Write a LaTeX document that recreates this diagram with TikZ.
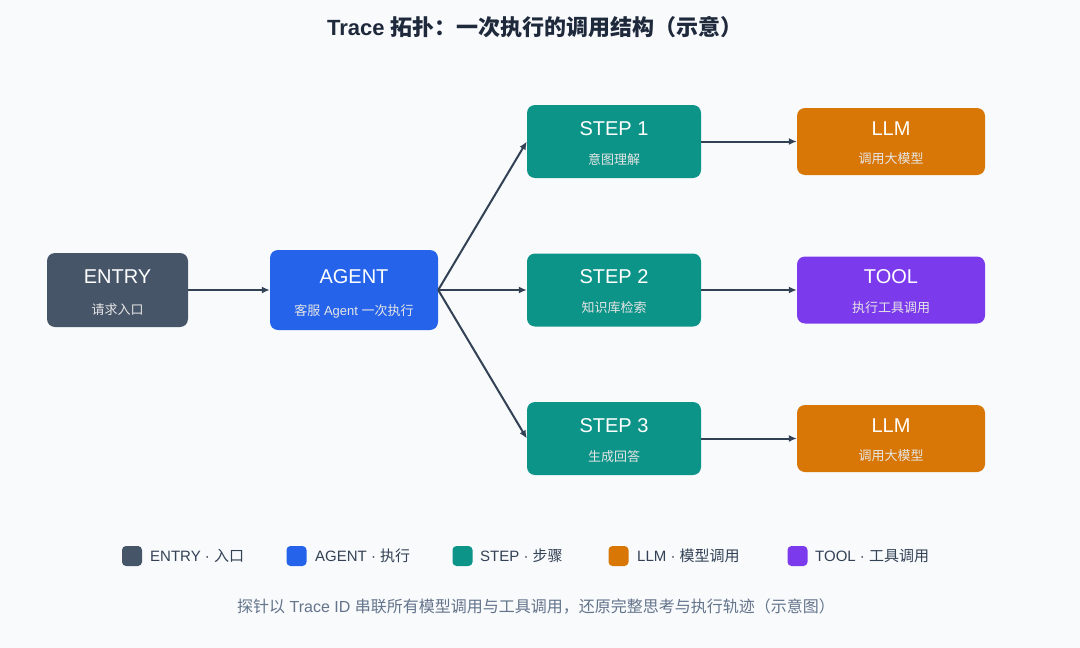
\documentclass[tikz,border=0pt]{standalone}
\usepackage{fontspec}
\setmainfont{Noto Sans CJK SC}
\newfontfamily\latf{Liberation Sans}
\newcommand{\La}[1]{{\latf #1}}
\usetikzlibrary{arrows.meta,calc}
\definecolor{bg}{HTML}{F8FAFC}
\definecolor{entryc}{HTML}{475569}
\definecolor{agentc}{HTML}{2563EB}
\definecolor{stepc}{HTML}{0D9488}
\definecolor{llmc}{HTML}{D97706}
\definecolor{toolc}{HTML}{7C3AED}
\definecolor{arrowc}{HTML}{334155}
\definecolor{titlec}{HTML}{1E293B}
\definecolor{legc}{HTML}{334155}
\definecolor{footc}{HTML}{64748B}
\begin{document}
\begin{tikzpicture}[x=1pt,y=-1pt,
  box/.style={rounded corners=8pt, inner sep=0pt, draw=none},
  ttl/.style={text=white, font=\latf\fontsize{20}{22}\selectfont, inner sep=0pt, anchor=center},
  sub/.style={text=white!90!black, font=\fontsize{13}{15}\selectfont, inner sep=0pt, anchor=center},
  conn/.style={draw=arrowc, line width=2pt, -{Latex[length=8pt,width=7pt]}},
  legbox/.style={rounded corners=4pt, minimum width=20pt, minimum height=20pt, inner sep=0pt},
  legtxt/.style={text=legc, font=\fontsize{15}{17}\selectfont, anchor=west, inner sep=0pt}
]
\useasboundingbox (0,0) rectangle (1080,648);
\fill[bg] (0,0) rectangle (1080,648);

\node[text=titlec, font=\bfseries\fontsize{22}{25}\selectfont] (title) at (535,27) {\La{\bfseries Trace }拓扑：一次执行的调用结构（示意）};

% boxes
\node[box, fill=entryc, minimum width=141pt, minimum height=74pt] (entry) at (117.5,290) {};
\node[box, fill=agentc, minimum width=168pt, minimum height=80pt] (agent) at (354,290) {};
\node[box, fill=stepc, minimum width=174pt, minimum height=73pt] (s1) at (614,141.5) {};
\node[box, fill=stepc, minimum width=174pt, minimum height=73pt] (s2) at (614,290) {};
\node[box, fill=stepc, minimum width=174pt, minimum height=73pt] (s3) at (614,438.5) {};
\node[box, fill=llmc, minimum width=188pt, minimum height=67pt] (l1) at (891,141.5) {};
\node[box, fill=toolc, minimum width=188pt, minimum height=67pt] (tool) at (891,290) {};
\node[box, fill=llmc, minimum width=188pt, minimum height=67pt] (l2) at (891,438.5) {};

% texts
\node[ttl] (entryT) at ($(entry)+(0,-13)$) {ENTRY};
\node[sub] (entryS) at ($(entry)+(0,20)$) {请求入口};
\node[ttl] (agentT) at ($(agent)+(0,-13)$) {AGENT};
\node[sub] (agentS) at ($(agent)+(0,21)$) {客服\La{ Agent }一次执行};
\node[ttl] (s1T) at ($(s1)+(0,-13)$) {STEP 1};
\node[sub] (s1S) at ($(s1)+(0,18)$) {意图理解};
\node[ttl] (s2T) at ($(s2)+(0,-13)$) {STEP 2};
\node[sub] (s2S) at ($(s2)+(0,18)$) {知识库检索};
\node[ttl] (s3T) at ($(s3)+(0,-13)$) {STEP 3};
\node[sub] (s3S) at ($(s3)+(0,18)$) {生成回答};
\node[ttl] (l1T) at ($(l1)+(0,-13)$) {LLM};
\node[sub] (l1S) at ($(l1)+(0,17)$) {调用大模型};
\node[ttl] (toolT) at ($(tool)+(0,-13)$) {TOOL};
\node[sub] (toolS) at ($(tool)+(0,18)$) {执行工具调用};
\node[ttl] (l2T) at ($(l2)+(0,-13)$) {LLM};
\node[sub] (l2S) at ($(l2)+(0,17)$) {调用大模型};

% connectors
\draw[conn] (entry.east) -- (agent.west);
\draw[conn] (agent.east) -- (s1.west);
\draw[conn] (agent.east) -- (s2.west);
\draw[conn] (agent.east) -- (s3.west);
\draw[conn] (s1.east) -- (l1.west);
\draw[conn] (s2.east) -- (tool.west);
\draw[conn] (s3.east) -- (l2.west);

% legend
\node[legbox, fill=entryc] (lg1) at (132,556) {};
\node[legtxt] (lg1t) at (150,556) {\La{ENTRY · }入口};
\node[legbox, fill=agentc] (lg2) at (296.5,556) {};
\node[legtxt] (lg2t) at (315,556) {\La{AGENT · }执行};
\node[legbox, fill=stepc] (lg3) at (462.5,556) {};
\node[legtxt] (lg3t) at (480,556) {\La{STEP · }步骤};
\node[legbox, fill=llmc] (lg4) at (618.5,556) {};
\node[legtxt] (lg4t) at (637,556) {\La{LLM · }模型调用};
\node[legbox, fill=toolc] (lg5) at (797.5,556) {};
\node[legtxt] (lg5t) at (815,556) {\La{TOOL · }工具调用};

\node[text=footc, font=\fontsize{16}{19}\selectfont] (foot) at (536,607) {探针以\La{ Trace ID }串联所有模型调用与工具调用，还原完整思考与执行轨迹（示意图）};
\end{tikzpicture}
\end{document}
